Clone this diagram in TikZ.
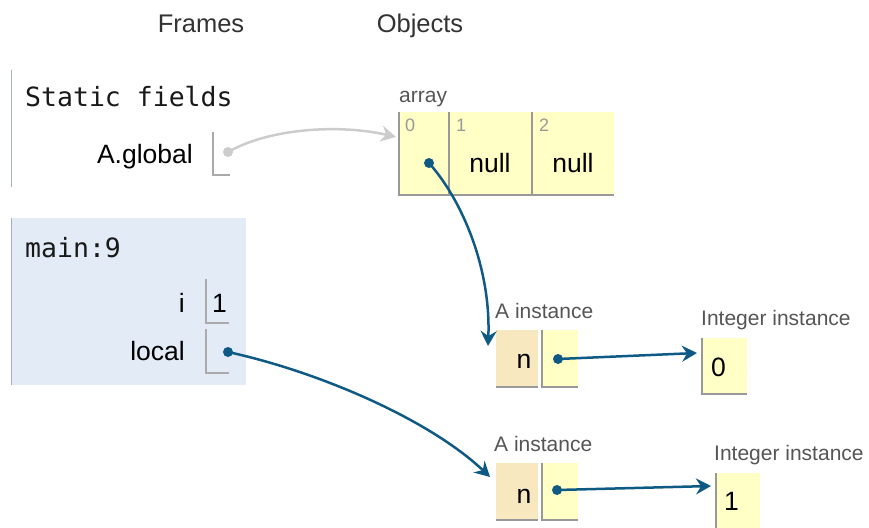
\documentclass[tikz,border=0pt]{standalone}
\usepackage{fontspec}
\setmainfont{Liberation Sans}
\setmonofont{DejaVu Sans Mono}
\usetikzlibrary{arrows.meta}
\definecolor{ptrcol}{HTML}{0F5A85}
\definecolor{graycol}{HTML}{CCCCCC}
\definecolor{heapyellow}{HTML}{FFFFC6}
\definecolor{keybeige}{HTML}{F7E8C0}
\definecolor{framebg}{HTML}{E2EBF6}
\definecolor{framebar}{HTML}{A6B3B6}
\definecolor{cellline}{HTML}{999999}
\definecolor{varline}{HTML}{AAAAAA}
\definecolor{labelgray}{HTML}{555555}
\definecolor{idxgray}{HTML}{999999}
\definecolor{headgray}{HTML}{333333}
\begin{document}
\begin{tikzpicture}[x=1pt,y=-1pt,
  head/.style={font=\fontsize{25.5}{30}\selectfont, text=headgray, inner sep=0, anchor=base},
  lbl/.style={font=\fontsize{26.5}{30}\selectfont, text=black, inner sep=0},
  mono/.style={font=\ttfamily\fontsize{26.5}{30}\selectfont, text=black!90, inner sep=0, anchor=base west},
  small/.style={font=\fontsize{21}{25}\selectfont, text=labelgray, inner sep=0, anchor=base west},
  idx/.style={font=\fontsize{18}{22}\selectfont, text=idxgray, inner sep=0, anchor=base west},
  box/.style={draw=none, inner sep=0, outer sep=0, anchor=north west},
  borderline/.style={draw=cellline, line width=1.2pt},
  varborder/.style={draw=varline, line width=1.2pt},
  dotnode/.style={circle, inner sep=0, minimum size=10pt, fill=#1},
  ptr/.style={draw=ptrcol, line width=2.5pt, -{Stealth[length=15pt,width=16pt,inset=5pt]}},
  gptr/.style={draw=graycol, line width=2.5pt, -{Stealth[length=15pt,width=16pt,inset=5pt]}}
]
\useasboundingbox (0,0) rectangle (869,527);

% headings
\node[head] (frames) at (201,33) {Frames};
\node[head] (objects) at (420,33) {Objects};

% static fields frame
\node[box, minimum width=1.8pt, minimum height=117pt, fill=framebar] (sbar) at (10.5,70) {};
\node[mono] (stitle) at (25,106) {Static fields};
\node[lbl, anchor=base east] (aglobal) at (193,163) {A.global};
\node[box, minimum width=17pt, minimum height=43pt] (gbox) at (213,132) {};
\draw[varborder] (gbox.north west) -- (gbox.south west) -- (gbox.south east);
\node[dotnode=graycol] (gdot) at (228,152) {};

% main frame
\node[box, minimum width=235pt, minimum height=167pt, fill=framebg] (mframe) at (11,218) {};
\node[box, minimum width=1.8pt, minimum height=167pt, fill=framebar] (mbar) at (10.5,218) {};
\node[mono] (mtitle) at (25,257) {main:9};
\node[lbl, anchor=base east] (ivar) at (185,312) {i};
\node[box, minimum width=23pt, minimum height=44pt] (ibox) at (206,279) {};
\draw[varborder] (ibox.north west) -- (ibox.south west) -- (ibox.south east);
\node[lbl, anchor=base west] (ival) at (212,312) {1};
\node[lbl, anchor=base east] (lvar) at (185,360) {local};
\node[box, minimum width=23pt, minimum height=44pt] (lbox) at (206,329) {};
\draw[varborder] (lbox.north west) -- (lbox.south west) -- (lbox.south east);
\node[dotnode=ptrcol] (ldot) at (228,352) {};

% array
\node[small] (arrlbl) at (399,102) {array};
\node[box, minimum width=50pt, minimum height=83pt, fill=heapyellow] (c0) at (399,112) {};
\node[box, minimum width=83pt, minimum height=83pt, fill=heapyellow] (c1) at (449,112) {};
\node[box, minimum width=82pt, minimum height=83pt, fill=heapyellow] (c2) at (532,112) {};
\foreach \c in {c0,c1,c2}{
  \draw[borderline] (\c.north west) -- (\c.south west) -- (\c.south east);
}
\node[idx] (i0) at (405,131) {0};
\node[idx] (i1) at (456,131) {1};
\node[idx] (i2) at (539,131) {2};
\node[lbl, anchor=base] (null1) at (490,172) {null};
\node[lbl, anchor=base] (null2) at (573,172) {null};
\node[dotnode=ptrcol] (adot) at (429,163) {};

% A instance 1
\node[small] (alab1) at (495,318) {A instance};
\node[box, minimum width=42pt, minimum height=57pt, fill=keybeige] (k1) at (496,330) {};
\draw[borderline] (k1.south west) -- (k1.south east);
\node[box, minimum width=36pt, minimum height=57pt, fill=heapyellow] (v1) at (542,330) {};
\draw[borderline] (v1.north west) -- (v1.south west) -- (v1.south east);
\node[lbl, anchor=base] (n1) at (524,368) {n};
\node[dotnode=ptrcol] (vdot1) at (558,359) {};

% Integer instance 0
\node[small] (ilab1) at (701,325) {Integer instance};
\node[box, minimum width=45pt, minimum height=56pt, fill=heapyellow] (int0) at (702,338) {};
\draw[borderline] (int0.north west) -- (int0.south west) -- (int0.south east);
\node[lbl, anchor=base west] (int0v) at (711,376) {0};

% A instance 2
\node[small] (alab2) at (494,451) {A instance};
\node[box, minimum width=42pt, minimum height=57pt, fill=keybeige] (k2) at (496,463) {};
\draw[borderline] (k2.south west) -- (k2.south east);
\node[box, minimum width=36pt, minimum height=57pt, fill=heapyellow] (v2) at (542,463) {};
\draw[borderline] (v2.north west) -- (v2.south west) -- (v2.south east);
\node[lbl, anchor=base] (n2) at (524,503) {n};
\node[dotnode=ptrcol] (vdot2) at (557,490) {};

% Integer instance 1
\node[small] (ilab2) at (714,460) {Integer instance};
\node[box, minimum width=44pt, minimum height=60pt, fill=heapyellow] (int1) at (716,473) {};
\draw[borderline] (int1.north west) -- (int1.south west);
\node[lbl, anchor=base west] (int1v) at (724,510) {1};

% arrow end points
\coordinate (tg) at (396,137);
\coordinate (ta) at (488,346);
\coordinate (tl) at (490,477);
\coordinate (t0) at (697,353);
\coordinate (t1) at (711,486);

% connectors
\draw[gptr] (gdot.center) .. controls (270,128) and (340,124) .. (tg);
\draw[ptr] (adot.center) .. controls (462,200) and (491,268) .. (ta);
\draw[ptr] (ldot.center) .. controls (320,372) and (430,420) .. (tl);
\draw[ptr] (vdot1.center) -- (t0);
\draw[ptr] (vdot2.center) -- (t1);
\end{tikzpicture}
\end{document}
